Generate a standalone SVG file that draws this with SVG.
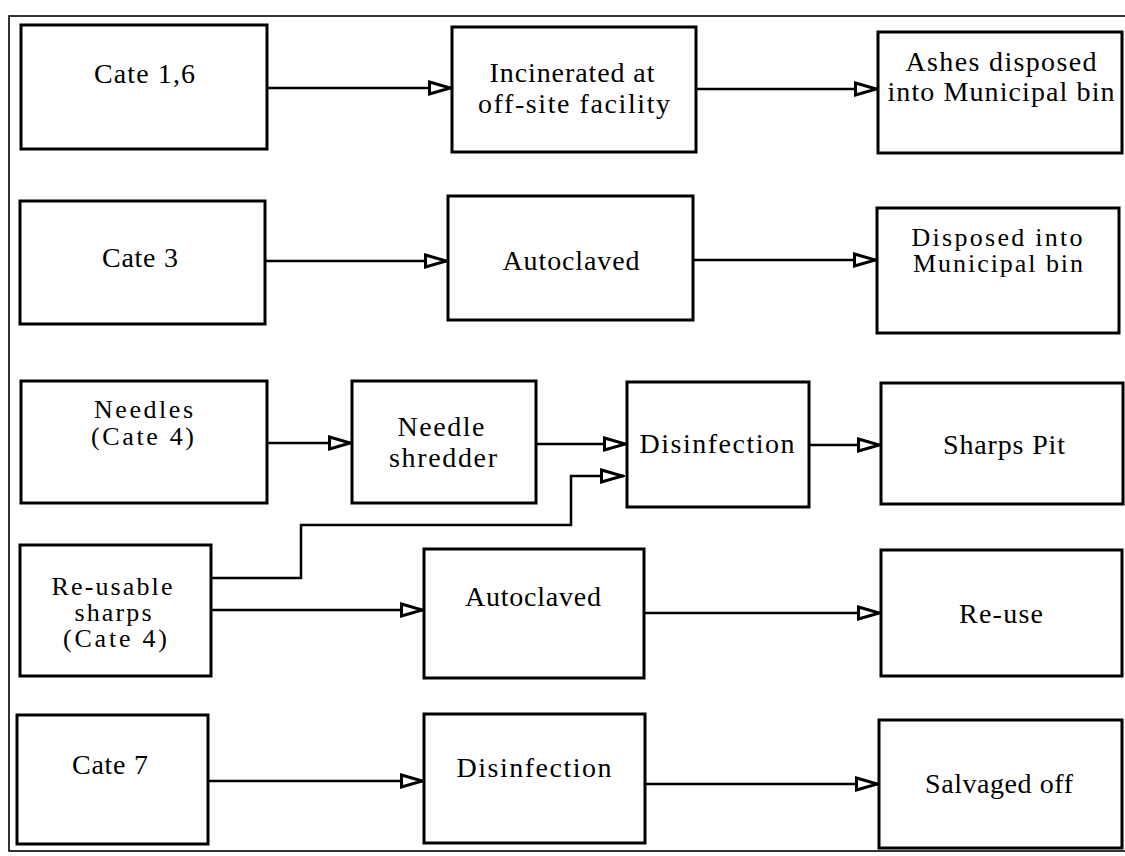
<svg xmlns="http://www.w3.org/2000/svg" width="1125" height="856" viewBox="0 0 1125 856">
  <style>
    .box { fill: #fff; stroke: #000; stroke-width: 3; }
    .frame { fill: none; stroke: #000; stroke-width: 1.6; }
    .conn { fill: none; stroke: #000; stroke-width: 2.5; marker-end: url(#open-arrow); }
    text { font-family: "Liberation Serif", "Times New Roman", serif; font-size: 28px; fill: #000; text-anchor: middle; }
    .tight { font-size: 26px; }
  </style>
  <defs>
    <marker id="open-arrow" markerUnits="userSpaceOnUse" viewBox="0 0 26 18" refX="25" refY="9" markerWidth="26" markerHeight="18" orient="auto">
      <path d="M2.5,3 L23.5,9 L2.5,15 Z" fill="#fff" stroke="#000" stroke-width="3" stroke-linejoin="miter"/>
    </marker>
  </defs>

  <rect width="1125" height="856" fill="#fff"/>
  <rect class="frame" x="9" y="16" width="1121" height="835"/>

  <!-- row 1 -->
  <g id="cate16">
    <rect class="box" x="21" y="25" width="246" height="124"/>
    <text x="144.5" y="83" textLength="101" lengthAdjust="spacing">Cate 1,6</text>
  </g>
  <g id="incinerated">
    <rect class="box" x="452" y="27" width="244" height="125"/>
    <text x="572" y="82" textLength="165" lengthAdjust="spacing">Incinerated at</text>
    <text x="574" y="113" textLength="192" lengthAdjust="spacing">off-site facility</text>
  </g>
  <g id="ashes">
    <rect class="box" x="878" y="32" width="244" height="121"/>
    <text x="1001" y="71" textLength="191" lengthAdjust="spacing">Ashes disposed</text>
    <text x="1001" y="101" textLength="227" lengthAdjust="spacing">into Municipal bin</text>
  </g>

  <!-- row 2 -->
  <g id="cate3">
    <rect class="box" x="20" y="201" width="245" height="123"/>
    <text x="140" y="267" textLength="76" lengthAdjust="spacing">Cate 3</text>
  </g>
  <g id="autoclaved1">
    <rect class="box" x="448" y="196" width="245" height="124"/>
    <text x="571" y="270" textLength="137" lengthAdjust="spacing">Autoclaved</text>
  </g>
  <g id="disposed">
    <rect class="box" x="877" y="208" width="242" height="125"/>
    <text class="tight" x="997" y="246" textLength="171" lengthAdjust="spacing">Disposed into</text>
    <text class="tight" x="998" y="272" textLength="170" lengthAdjust="spacing">Municipal bin</text>
  </g>

  <!-- row 3 -->
  <g id="needles">
    <rect class="box" x="21" y="381" width="246" height="122"/>
    <text class="tight" x="143.5" y="418" textLength="99" lengthAdjust="spacing">Needles</text>
    <text class="tight" x="142.5" y="445" textLength="103" lengthAdjust="spacing">(Cate 4)</text>
  </g>
  <g id="shredder">
    <rect class="box" x="352" y="381" width="184" height="122"/>
    <text x="441" y="436" textLength="87" lengthAdjust="spacing">Needle</text>
    <text x="443" y="467" textLength="108" lengthAdjust="spacing">shredder</text>
  </g>
  <g id="disinfection1">
    <rect class="box" x="627" y="382" width="182" height="125"/>
    <text x="717" y="453" textLength="155" lengthAdjust="spacing">Disinfection</text>
  </g>
  <g id="sharps-pit">
    <rect class="box" x="881" y="383" width="242" height="121"/>
    <text x="1004" y="454" textLength="122" lengthAdjust="spacing">Sharps Pit</text>
  </g>

  <!-- row 4 -->
  <g id="reusable">
    <rect class="box" x="20" y="545" width="191" height="131"/>
    <text class="tight" x="112" y="595" textLength="121" lengthAdjust="spacing">Re-usable</text>
    <text class="tight" x="113" y="621" textLength="77" lengthAdjust="spacing">sharps</text>
    <text class="tight" x="115" y="647" textLength="104" lengthAdjust="spacing">(Cate 4)</text>
  </g>
  <g id="autoclaved2">
    <rect class="box" x="424" y="549" width="220" height="129"/>
    <text x="533" y="606" textLength="136" lengthAdjust="spacing">Autoclaved</text>
  </g>
  <g id="reuse">
    <rect class="box" x="881" y="550" width="241" height="126"/>
    <text x="1001" y="623" textLength="84" lengthAdjust="spacing">Re-use</text>
  </g>

  <!-- row 5 -->
  <g id="cate7">
    <rect class="box" x="17" y="715" width="191" height="129"/>
    <text x="110" y="774" textLength="76" lengthAdjust="spacing">Cate 7</text>
  </g>
  <g id="disinfection2">
    <rect class="box" x="424" y="714" width="221" height="129"/>
    <text x="534" y="777" textLength="155" lengthAdjust="spacing">Disinfection</text>
  </g>
  <g id="salvaged">
    <rect class="box" x="879" y="720" width="243" height="128"/>
    <text x="999" y="793" textLength="148" lengthAdjust="spacing">Salvaged off</text>
  </g>

  <!-- connectors -->
  <g id="connectors">
    <path class="conn" d="M267,88 H452"/>
    <path class="conn" d="M696,89 H878"/>
    <path class="conn" d="M265,261 H448"/>
    <path class="conn" d="M693,260 H877"/>
    <path class="conn" d="M267,443 H352"/>
    <path class="conn" d="M536,444 H627"/>
    <path class="conn" d="M211,578 H301 V525 H571 V476 H624"/>
    <path class="conn" d="M809,445 H881"/>
    <path class="conn" d="M211,610 H424"/>
    <path class="conn" d="M644,613 H881"/>
    <path class="conn" d="M208,781 H424"/>
    <path class="conn" d="M645,784 H879"/>
  </g>
</svg>
